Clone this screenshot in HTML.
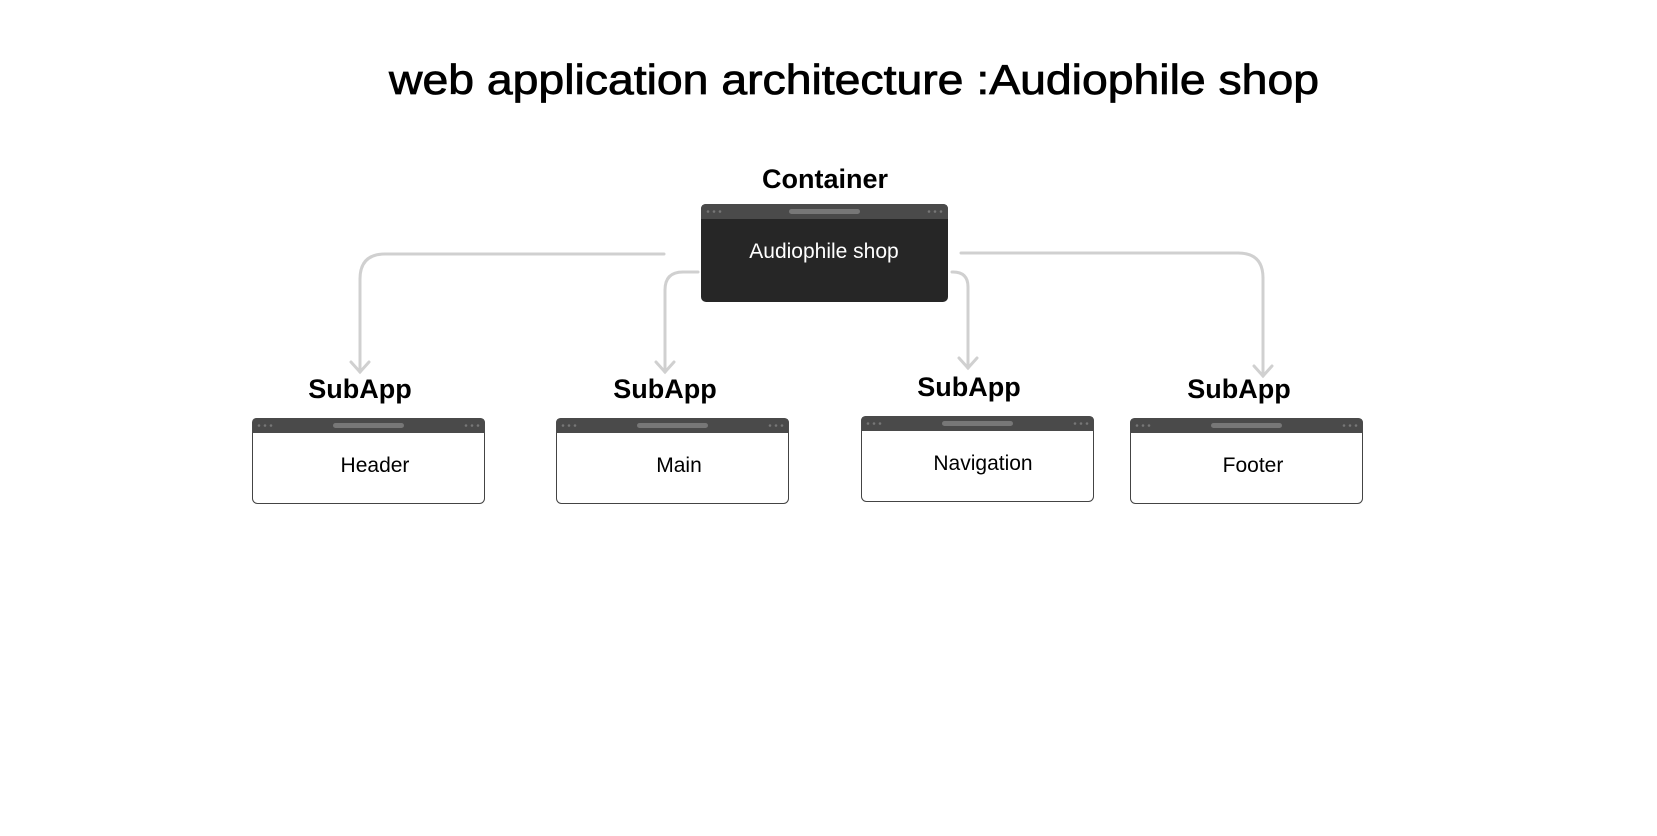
<!DOCTYPE html>
<html><head><meta charset="utf-8"><style>
html,body{margin:0;padding:0;background:#fff;}
svg{display:block;}
</style></head><body>
<svg width="1657" height="836" viewBox="0 0 1657 836" xmlns="http://www.w3.org/2000/svg">
<text x="854" y="94" text-anchor="middle" font-family="Liberation Sans, sans-serif" font-size="42" textLength="930" lengthAdjust="spacingAndGlyphs" fill="#000" stroke="#000" stroke-width="0.8">web application architecture :Audiophile shop</text>

<g fill="none" stroke="#d0d0d0" stroke-width="3" stroke-linecap="round">
<path d="M664,254 H385 Q360,254 360,279 V372"/>
<path d="M351,362 L360,372 L369,362"/>
<path d="M698,272 H683 Q665,272 665,290 V372"/>
<path d="M656,362 L665,372 L674,362"/>
<path d="M952,272 H953 Q968,272 968,287 V368"/>
<path d="M959,358 L968,368 L977,358"/>
<path d="M961,253 H1238 Q1263,253 1263,278 V376"/>
<path d="M1254,366 L1263,376 L1272,366"/>
</g>

<text x="825" y="188" text-anchor="middle" font-family="Liberation Sans, sans-serif" font-weight="bold" font-size="27" fill="#000">Container</text>
<rect x="701" y="204" width="247" height="98" rx="5" fill="#262626"/>
<path d="M701,219 V209 Q701,204 706,204 H943 Q948,204 948,209 V219 Z" fill="#4a4a4a"/>
<rect x="789" y="209" width="71" height="5" rx="2.5" fill="#777"/>
<g fill="#777"><circle cx="708" cy="211.5" r="1.3"/><circle cx="714" cy="211.5" r="1.3"/><circle cx="720" cy="211.5" r="1.3"/><circle cx="929" cy="211.5" r="1.3"/><circle cx="935" cy="211.5" r="1.3"/><circle cx="941" cy="211.5" r="1.3"/></g>
<text x="824" y="258" text-anchor="middle" font-family="Liberation Sans, sans-serif" font-size="21" fill="#fff">Audiophile shop</text>

<g font-family="Liberation Sans, sans-serif">
<text x="360" y="398" text-anchor="middle" font-weight="bold" font-size="27">SubApp</text>
<rect x="252.5" y="418.5" width="232" height="85" rx="5" fill="#fff" stroke="#444" stroke-width="1"/>
<path d="M252,433 V423 Q252,418 257,418 H480 Q485,418 485,423 V433 Z" fill="#4a4a4a"/>
<rect x="333" y="423" width="71" height="5" rx="2.5" fill="#777"/>
<g fill="#777"><circle cx="259" cy="425.5" r="1.3"/><circle cx="265" cy="425.5" r="1.3"/><circle cx="271" cy="425.5" r="1.3"/><circle cx="466" cy="425.5" r="1.3"/><circle cx="472" cy="425.5" r="1.3"/><circle cx="478" cy="425.5" r="1.3"/></g>
<text x="375" y="472" text-anchor="middle" font-size="21">Header</text>

<text x="665" y="398" text-anchor="middle" font-weight="bold" font-size="27">SubApp</text>
<rect x="556.5" y="418.5" width="232" height="85" rx="5" fill="#fff" stroke="#444" stroke-width="1"/>
<path d="M556,433 V423 Q556,418 561,418 H784 Q789,418 789,423 V433 Z" fill="#4a4a4a"/>
<rect x="637" y="423" width="71" height="5" rx="2.5" fill="#777"/>
<g fill="#777"><circle cx="563" cy="425.5" r="1.3"/><circle cx="569" cy="425.5" r="1.3"/><circle cx="575" cy="425.5" r="1.3"/><circle cx="770" cy="425.5" r="1.3"/><circle cx="776" cy="425.5" r="1.3"/><circle cx="782" cy="425.5" r="1.3"/></g>
<text x="679" y="472" text-anchor="middle" font-size="21">Main</text>

<text x="969" y="396" text-anchor="middle" font-weight="bold" font-size="27">SubApp</text>
<rect x="861.5" y="416.5" width="232" height="85" rx="5" fill="#fff" stroke="#444" stroke-width="1"/>
<path d="M861,431 V421 Q861,416 866,416 H1089 Q1094,416 1094,421 V431 Z" fill="#4a4a4a"/>
<rect x="942" y="421" width="71" height="5" rx="2.5" fill="#777"/>
<g fill="#777"><circle cx="868" cy="423.5" r="1.3"/><circle cx="874" cy="423.5" r="1.3"/><circle cx="880" cy="423.5" r="1.3"/><circle cx="1075" cy="423.5" r="1.3"/><circle cx="1081" cy="423.5" r="1.3"/><circle cx="1087" cy="423.5" r="1.3"/></g>
<text x="983" y="470" text-anchor="middle" font-size="21">Navigation</text>

<text x="1239" y="398" text-anchor="middle" font-weight="bold" font-size="27">SubApp</text>
<rect x="1130.5" y="418.5" width="232" height="85" rx="5" fill="#fff" stroke="#444" stroke-width="1"/>
<path d="M1130,433 V423 Q1130,418 1135,418 H1358 Q1363,418 1363,423 V433 Z" fill="#4a4a4a"/>
<rect x="1211" y="423" width="71" height="5" rx="2.5" fill="#777"/>
<g fill="#777"><circle cx="1137" cy="425.5" r="1.3"/><circle cx="1143" cy="425.5" r="1.3"/><circle cx="1149" cy="425.5" r="1.3"/><circle cx="1344" cy="425.5" r="1.3"/><circle cx="1350" cy="425.5" r="1.3"/><circle cx="1356" cy="425.5" r="1.3"/></g>
<text x="1253" y="472" text-anchor="middle" font-size="21">Footer</text>
</g>
</svg>
</body></html>
